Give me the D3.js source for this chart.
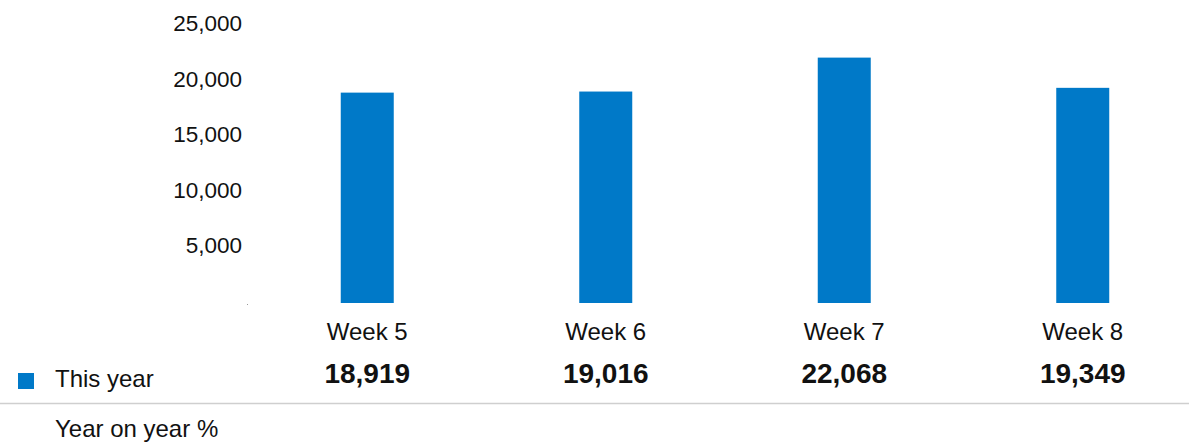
<!DOCTYPE html>
<html>
<head>
<meta charset="utf-8">
<script src="https://cdn.jsdelivr.net/npm/d3@7"></script>
<style>
  body { margin: 0; background: #fff; }
  svg { display: block; font-family: "Liberation Sans", Arial, sans-serif; }
</style>
</head>
<body>
<div id="chart"></div>
<script>
const weeks = ["Week 5", "Week 6", "Week 7", "Week 8"];
const thisYear = [18919, 19016, 22068, 19349];
const yTicks = [5000, 10000, 15000, 20000, 25000];
const seriesName = "This year";
const rowLabel = "Year on year %";

const width = 1189;
const height = 443;
const barColor = "#0079c8";

const svg = d3.select("#chart").append("svg")
  .attr("width", width)
  .attr("height", height);

// x = 週, 帯の中央に細い棒
const x = d3.scaleBand()
  .domain(weeks)
  .range([248, 1202])
  .padding(0);

const y = d3.scaleLinear()
  .domain([0, 25000])
  .range([303, 25]);

const barW = 53;

// 縦軸ラベル
const yAxis = d3.axisLeft(y)
  .tickValues(yTicks)
  .tickFormat(d3.format(","))
  .tickSize(0)
  .tickPadding(6);

const ya = svg.append("g")
  .attr("transform", "translate(248,0)")
  .call(yAxis);
ya.select(".domain").remove();
ya.selectAll("text")
  .attr("font-size", "22.5px")
  .attr("font-family", "Liberation Sans, Arial, sans-serif")
  .attr("fill", "#111")
  .attr("dy", "0.24em");

// 原点の小さな点
svg.append("rect")
  .attr("x", 247)
  .attr("y", y(0) + 1)
  .attr("width", 1)
  .attr("height", 1)
  .attr("fill", "#999");

// 棒
svg.selectAll("rect.bar")
  .data(thisYear)
  .enter().append("rect")
  .attr("class", "bar")
  .attr("x", (d, i) => x(weeks[i]) + x.bandwidth() / 2 - barW / 2)
  .attr("y", d => y(d))
  .attr("width", barW)
  .attr("height", d => y(0) - y(d))
  .attr("fill", barColor);

// 週ラベル
svg.selectAll("text.week")
  .data(weeks)
  .enter().append("text")
  .attr("class", "week")
  .attr("x", d => x(d) + x.bandwidth() / 2)
  .attr("y", 340)
  .attr("text-anchor", "middle")
  .attr("font-size", "24px")
  .attr("fill", "#111")
  .text(d => d);

// 値
svg.selectAll("text.val")
  .data(thisYear)
  .enter().append("text")
  .attr("class", "val")
  .attr("x", (d, i) => x(weeks[i]) + x.bandwidth() / 2)
  .attr("y", 383)
  .attr("text-anchor", "middle")
  .attr("font-size", "28px")
  .attr("font-weight", "bold")
  .attr("fill", "#111")
  .text(d => d3.format(",")(d));

// 凡例
svg.append("rect")
  .attr("x", 18)
  .attr("y", 373)
  .attr("width", 16)
  .attr("height", 16)
  .attr("fill", barColor);

svg.append("text")
  .attr("x", 55)
  .attr("y", 387)
  .attr("font-size", "24px")
  .attr("fill", "#111")
  .text(seriesName);

svg.append("line")
  .attr("x1", 0)
  .attr("x2", width)
  .attr("y1", 403.5)
  .attr("y2", 403.5)
  .attr("stroke", "#cfcfcf")
  .attr("stroke-width", 1.5);

svg.append("text")
  .attr("x", 55)
  .attr("y", 437)
  .attr("font-size", "24px")
  .attr("fill", "#111")
  .text(rowLabel);
</script>
</body>
</html>
